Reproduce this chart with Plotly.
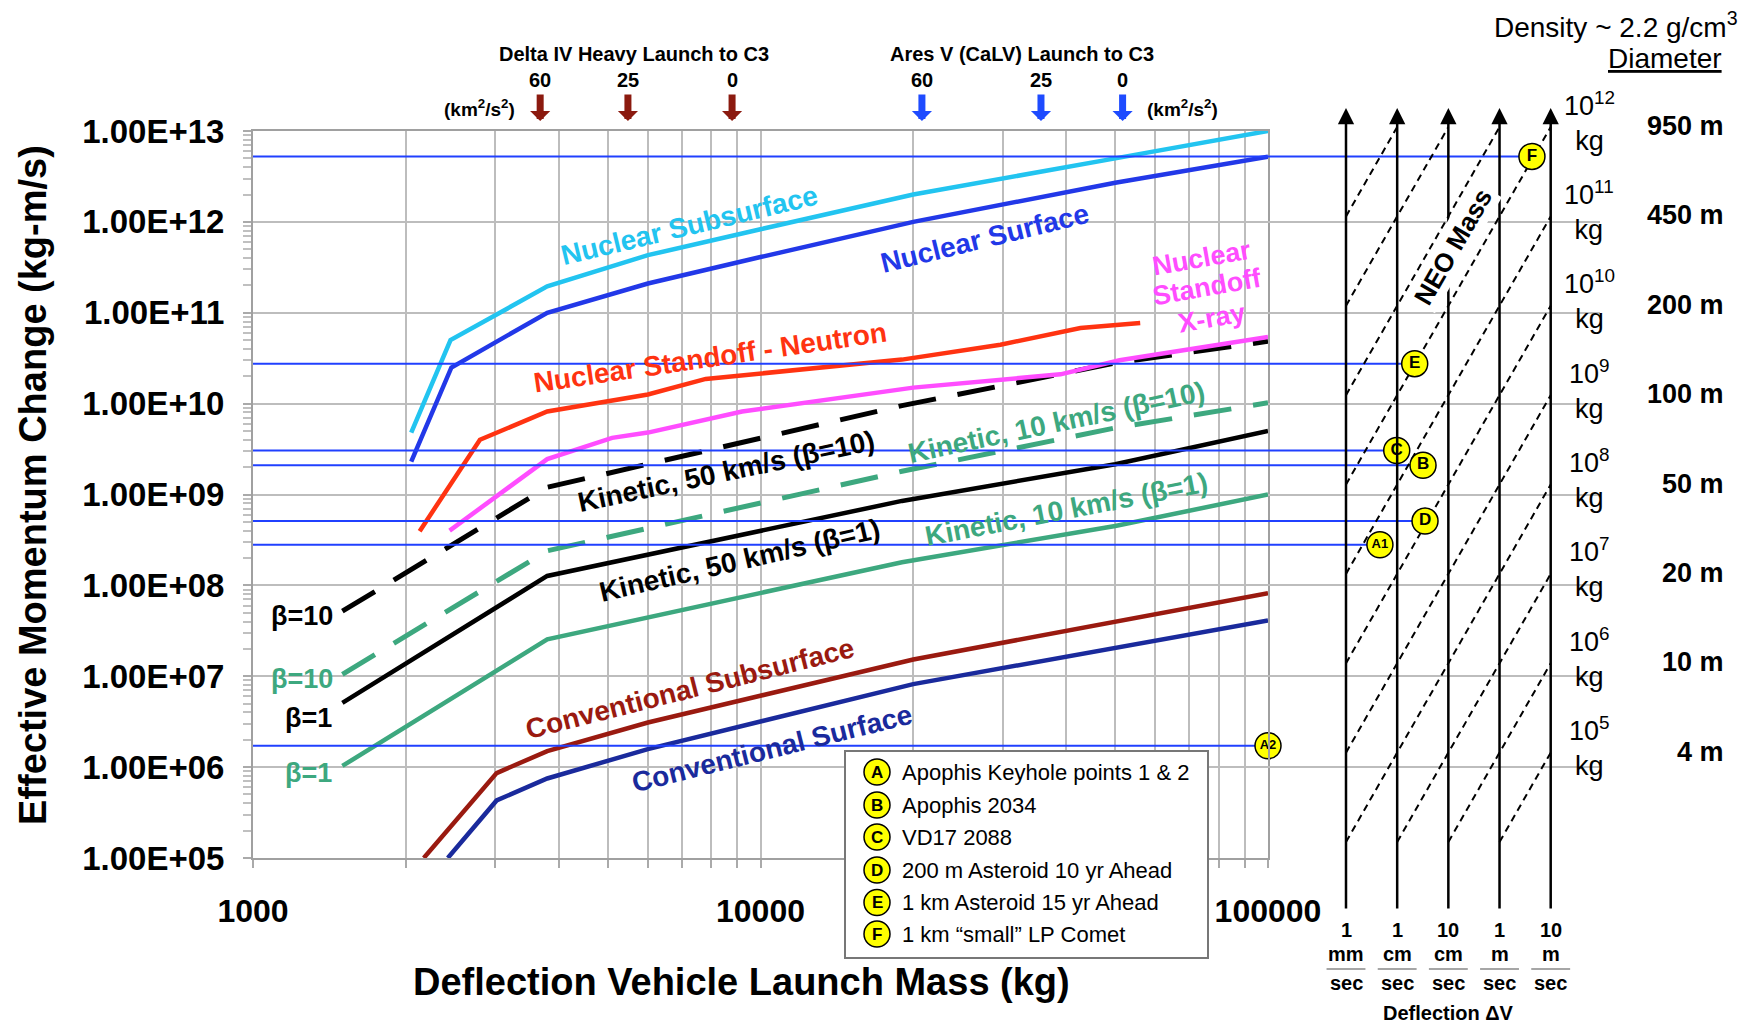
import numpy as np
import plotly.graph_objects as go

# ======================= DATA =======================
# Launch mass (kg) / effective momentum change (kg-m/s)
mass_nuc_sub = [2050, 2450, 3800, 6000, 10000, 20000, 50000, 100000]
mom_nuc_sub = [4.8e9, 5.0e10, 1.95e11, 4.3e11, 8.3e11, 2.0e12, 5.0e12, 1.0e13]

mass_nuc_surf = [2050, 2460, 3800, 6000, 10000, 20000, 50000, 100000]
mom_nuc_surf = [2.3e9, 2.5e10, 1.0e11, 2.1e11, 4.1e11, 1.0e12, 2.7e12, 5.2e12]

mass_neutron = [2130, 2800, 3800, 6000, 7800, 19000, 29700, 39000, 42700, 56000]
mom_neutron = [3.95e8, 4.0e9, 8.2e9, 1.26e10, 1.87e10, 3.05e10, 4.45e10, 6.0e10, 6.8e10, 7.7e10]

mass_xray = [2440, 3800, 5100, 6000, 9200, 20000, 39000, 51000, 100000]
mom_xray = [4.0e8, 2.45e9, 4.2e9, 4.8e9, 8.2e9, 1.5e10, 2.1e10, 3.0e10, 5.4e10]

mass_kin = [1500, 3800, 19000, 50000, 100000]
mom_kin50_b10 = [5.2e7, 1.2e9, 9.5e9, 2.8e10, 4.85e10]
mom_kin50_b1 = [5.1e6, 1.27e8, 8.5e8, 2.15e9, 5.0e9]
mom_kin10_b10 = [1.05e7, 2.4e8, 1.8e9, 5.4e9, 1.02e10]
mom_kin10_b1 = [1.03e6, 2.55e7, 1.8e8, 4.5e8, 1.0e9]

mass_conv_sub = [2170, 3020, 3800, 6000, 20000, 100000]
mom_conv_sub = [1.0e5, 8.6e5, 1.5e6, 3.1e6, 1.53e7, 8.2e7]

mass_conv_surf = [2420, 3020, 3800, 6000, 20000, 100000]
mom_conv_surf = [1.0e5, 4.3e5, 7.5e5, 1.58e6, 8.2e6, 4.1e7]

# Reference scenarios (momentum needed, deflection dV in m/s on nomogram)
ref_labels = ["F", "E", "C", "B", "D", "A1"]
ref_mom = [5.25e12, 2.75e10, 3.05e9, 2.1e9, 5.1e8, 2.8e8]
ref_dv = [4.3, 0.022, 0.0098, 0.032, 0.035, 0.0046]
a2_label = "A2"
a2_mom = 1.72e6

legend_keys = ["A", "B", "C", "D", "E", "F"]
legend_texts = ["Apophis Keyhole points 1 & 2", "Apophis 2034", "VD17 2088",
                "200 m Asteroid 10 yr Ahead", "1 km Asteroid 15 yr Ahead",
                "1 km \u201csmall\u201d LP Comet"]

# Launch vehicle capability markers
c3_values = [60, 25, 0]
delta_mass = [3680, 5480, 8790]
ares_mass = [20800, 35700, 51700]

# Nomogram
dv_values = [0.001, 0.01, 0.1, 1, 10]
dv_num = ["1", "1", "10", "1", "10"]
dv_unit = ["mm", "cm", "cm", "m", "m"]
neo_mass_exp = [5, 6, 7, 8, 9, 10, 11, 12]
diam_labels = ["4 m", "10 m", "20 m", "50 m", "100 m", "200 m", "450 m", "950 m"]
diag_mass_exp = list(range(5, 16))

y_tick_exp = list(range(5, 14))
x_tick_vals = [1000, 10000, 100000]

# ======================= LAYOUT CONSTANTS =======================
W, H = 1740, 1027
FONT = "Liberation Sans, Arial, Helvetica, sans-serif"
PX_L, PX_R, PX_T, PX_B = 253, 1268, 131, 858


def fx(p):
    return p / W


def fy(p):
    return 1 - p / H


NOMO_L0, NOMO_L4 = 1346, 1550.7
NU = (NOMO_L4 - NOMO_L0) / 4
NOMO_R = 1600
x2_range = [(PX_R - NOMO_L0) / NU, (NOMO_R - NOMO_L0) / NU]
PPD2 = (842 - 127) / 8
Y2_TOP, Y2_BOT = 108, 910
y2_range = [5 - (Y2_BOT - 842) / PPD2, 13 + (127 - Y2_TOP) / PPD2]
diag_lo, diag_hi = 5, 13

C_CYAN = "#22C4F0"
C_NSURF = "#2238E8"
C_RED = "#FF3311"
C_MAG = "#FF4DFF"
C_GREEN = "#3DA87F"
C_DRED = "#9A1A10"
C_NAVY = "#1A2A9C"
C_REF = "#2040FF"
C_GRID = "#BDBDBD"

fig = go.Figure()


def curve(xs, ys, color, dash=None, width=4.5):
    fig.add_trace(go.Scatter(x=xs, y=ys, mode="lines", xaxis="x", yaxis="y",
                             line=dict(color=color, width=width, dash=dash),
                             hoverinfo="skip", showlegend=False))


curve(mass_conv_surf, mom_conv_surf, C_NAVY)
curve(mass_conv_sub, mom_conv_sub, C_DRED)
curve(mass_kin, mom_kin10_b1, C_GREEN)
curve(mass_kin, mom_kin10_b10, C_GREEN, dash="38px,22px", width=5)
curve(mass_kin, mom_kin50_b1, "black")
curve(mass_kin, mom_kin50_b10, "black", dash="38px,22px", width=5)
curve(mass_xray, mom_xray, C_MAG)
curve(mass_neutron, mom_neutron, C_RED)
curve(mass_nuc_surf, mom_nuc_surf, C_NSURF)
curve(mass_nuc_sub, mom_nuc_sub, C_CYAN)

# Reference lines across the main chart
for m in ref_mom + [a2_mom]:
    fig.add_trace(go.Scatter(x=[x_tick_vals[0], x_tick_vals[-1]], y=[m, m], mode="lines",
                             xaxis="x", yaxis="y", line=dict(color=C_REF, width=2),
                             hoverinfo="skip", showlegend=False))
# Extensions into the nomogram
for m, dv in zip(ref_mom, ref_dv):
    fig.add_trace(go.Scatter(x=[x2_range[0], np.log10(dv) + 3], y=[m, m], mode="lines",
                             xaxis="x2", yaxis="y", line=dict(color=C_REF, width=2),
                             hoverinfo="skip", showlegend=False))

# Nomogram diagonals (constant NEO mass)
for e in diag_mass_exp:
    xs = max(0.0, diag_lo + 3 - e)
    xe = min(4.0, diag_hi + 3 - e)
    if xe <= xs:
        continue
    fig.add_trace(go.Scatter(x=[xs, xe], y=[10 ** (e + xs - 3), 10 ** (e + xe - 3)],
                             mode="lines", xaxis="x2", yaxis="y2",
                             line=dict(color="black", width=2, dash="7px,5px"),
                             hoverinfo="skip", showlegend=False))

circle_marker = dict(symbol="circle", size=26, color="#FFFF00", line=dict(color="black", width=1.5))

# Circles at left edge of the chart
left_lbls = ref_labels + [a2_label]
fig.add_trace(go.Scatter(x=[x_tick_vals[0]] * len(left_lbls), y=ref_mom + [a2_mom],
                         mode="markers+text", xaxis="x", yaxis="y",
                         marker=circle_marker,
                         text=["<b>%s</b>" % s for s in left_lbls],
                         textfont=dict(family=FONT, size=[13 if len(s) > 1 else 17 for s in left_lbls],
                                       color="black"),
                         textposition="middle center", cliponaxis=False,
                         hoverinfo="skip", showlegend=False))
fig.add_trace(go.Scatter(x=[x_tick_vals[-1]], y=[a2_mom], mode="markers+text",
                         xaxis="x", yaxis="y", marker=circle_marker,
                         text=["<b>A2</b>"], textfont=dict(family=FONT, size=13, color="black"),
                         textposition="middle center", cliponaxis=False,
                         hoverinfo="skip", showlegend=False))
# Circles on the nomogram (x3/y3 mirror x2/y so they draw above the diagonals)
fig.add_trace(go.Scatter(x=[np.log10(d) + 3 for d in ref_dv], y=ref_mom, mode="markers+text",
                         xaxis="x3", yaxis="y3", marker=circle_marker,
                         text=["<b>%s</b>" % s for s in ref_labels],
                         textfont=dict(family=FONT, size=[13 if len(s) > 1 else 17 for s in ref_labels],
                                       color="black"),
                         textposition="middle center", cliponaxis=False,
                         hoverinfo="skip", showlegend=False))

annotations = []
shapes = []


def ann(text, x, y, size, color="black", bold=False, angle=0, xanchor="center",
        yanchor="middle", xref="paper", yref="paper", **kw):
    t = "<b>%s</b>" % text if bold else text
    d = dict(text=t, x=x, y=y, xref=xref, yref=yref, showarrow=False,
             font=dict(family=FONT, size=size, color=color), textangle=angle,
             xanchor=xanchor, yanchor=yanchor)
    d.update(kw)
    annotations.append(d)


# Axis titles
ann("Deflection Vehicle Launch Mass (kg)", fx(741), fy(982), 38, bold=True)
ann("Effective Momentum Change (kg-m/s)", fx(33), fy(485), 38, bold=True, angle=-90)

# Curve labels
ann("Nuclear Subsurface", fx(689), fy(226), 28, C_CYAN, True, -13.5)
ann("Nuclear Surface", fx(984), fy(238), 28, C_NSURF, True, -13.8)
ann("Nuclear Standoff - Neutron", fx(710), fy(357), 28, C_RED, True, -8.3)
ann("Nuclear", fx(1202), fy(258), 27, C_MAG, True, -10)
ann("Standoff", fx(1207), fy(287), 27, C_MAG, True, -10)
ann("X-ray", fx(1212), fy(318), 27, C_MAG, True, -10)
ann("Kinetic, 50 km/s (\u03b2=10)", fx(726), fy(472), 28, "black", True, -12)
ann("Kinetic, 50 km/s (\u03b2=1)", fx(739), fy(560), 28, "black", True, -13)
ann("Kinetic, 10 km/s (\u03b2=10)", fx(1056), fy(422), 28, C_GREEN, True, -12)
ann("Kinetic, 10 km/s (\u03b2=1)", fx(1066), fy(510), 28, C_GREEN, True, -11)
ann("Conventional Subsurface", fx(690), fy(688), 28, C_DRED, True, -14.2)
ann("Conventional Surface", fx(772), fy(748), 28, C_NAVY, True, -14)
ann("\u03b2=10", fx(302), fy(616), 27, "black", True)
ann("\u03b2=10", fx(302), fy(679), 27, C_GREEN, True)
ann("\u03b2=1", fx(308), fy(718), 27, "black", True)
ann("\u03b2=1", fx(308), fy(773), 27, C_GREEN, True)

# Launch vehicle markers
ann("Delta IV Heavy Launch to C3", fx(634), fy(54), 20, bold=True)
ann("Ares V (CaLV) Launch to C3", fx(1022), fy(54), 20, bold=True)
ann("(km<sup>2</sup>/s<sup>2</sup>)", fx(479), fy(108), 19, bold=True)
ann("(km<sup>2</sup>/s<sup>2</sup>)", fx(1182), fy(108), 19, bold=True)
for masses, col in ((delta_mass, "#8B1A0F"), (ares_mass, "#1E4BFF")):
    for c3, m in zip(c3_values, masses):
        ann(str(c3), np.log10(m), fy(80), 20, bold=True, xref="x")
        annotations.append(dict(x=np.log10(m), y=fy(121), xref="x", yref="paper",
                                text="", showarrow=True, ax=0, ay=-28,
                                arrowcolor=col, arrowwidth=7, arrowhead=1, arrowsize=0.48))

# Nomogram arrows and labels
for i, dv in enumerate(dv_values):
    xi = np.log10(dv) + 3
    annotations.append(dict(x=xi, y=y2_range[1], xref="x2", yref="y2", text="",
                            showarrow=True, ax=xi, ay=y2_range[0], axref="x2", ayref="y2",
                            arrowcolor="black", arrowwidth=2.5, arrowhead=2, arrowsize=1.3))
    ann(dv_num[i], xi, fy(930), 20, bold=True, xref="x2")
    ann(dv_unit[i], xi, fy(954), 20, bold=True, xref="x2")
    ann("sec", xi, fy(983), 20, bold=True, xref="x2")
    shapes.append(dict(type="line", xref="x2", yref="paper", x0=xi - 0.38, x1=xi + 0.38,
                       y0=fy(969), y1=fy(969), line=dict(color="#888888", width=1.5)))
ann("Deflection \u0394V", np.log10(dv_values[2]) + 3, fy(1013), 20, bold=True, xref="x2")

for e, dl in zip(neo_mass_exp, diam_labels):
    ann("10<sup>%d</sup><br>kg" % e, fx(1589), np.log10(10.0 ** e * dv_values[-1]), 27,
        yref="y2", yshift=6)
    ann(dl, fx(1726), np.log10(10.0 ** e * dv_values[-1]), 27, bold=True,
        yref="y2", xanchor="right", yshift=1)

ann("NEO Mass", fx(1453), fy(247), 26, bold=True, angle=-60, bgcolor="white", borderpad=2)
ann("Density ~ 2.2 g/cm<sup>3</sup>", fx(1740), fy(25), 28, xanchor="right")
ann("<u>Diameter</u>", fx(1724), fy(59), 28, xanchor="right")

# Legend box
LB = dict(x0=845, x1=1208, y0=751, y1=958)
shapes.append(dict(type="rect", xref="paper", yref="paper", x0=fx(LB["x0"]), x1=fx(LB["x1"]),
                   y0=fy(LB["y1"]), y1=fy(LB["y0"]), fillcolor="white",
                   line=dict(color="#777777", width=2), layer="above"))
rows = [772, 805, 837, 870, 902.5, 934]
for k, t, ry in zip(legend_keys, legend_texts, rows):
    shapes.append(dict(type="circle", xref="paper", yref="paper", xsizemode="pixel",
                       ysizemode="pixel", xanchor=fx(877), yanchor=fy(ry),
                       x0=-13, x1=13, y0=-13, y1=13, fillcolor="#FFFF00",
                       line=dict(color="black", width=1.5), layer="above"))
    ann(k, fx(877), fy(ry), 17, bold=True)
    ann(t, fx(900), fy(ry), 22, xanchor="left")

minor_x = [k * 10 ** d for d in (3, 4) for k in range(2, 10)]

fig.update_layout(
    template="none",
    width=W, height=H,
    margin=dict(l=0, r=0, t=0, b=0, pad=0, autoexpand=False),
    paper_bgcolor="white", plot_bgcolor="rgba(0,0,0,0)",
    showlegend=False,
    font=dict(family=FONT, color="black"),
    xaxis=dict(type="log", range=[3, 5], domain=[fx(PX_L), fx(PX_R)], anchor="y",
               automargin=False,
               tickvals=x_tick_vals, ticktext=["<b>%d</b>" % v for v in x_tick_vals],
               tickfont=dict(family=FONT, size=32, color="black"),
               ticks="outside", ticklen=8, tickcolor="#AAAAAA", tickwidth=1.5,
               ticklabelstandoff=16,
               showgrid=True, gridcolor=C_GRID, gridwidth=2,
               minor=dict(tickvals=minor_x, showgrid=True, gridcolor=C_GRID, gridwidth=2,
                          ticks="outside", ticklen=8, tickcolor="#AAAAAA"),
               showline=True, linecolor="#A0A0A0", linewidth=2, mirror=True, zeroline=False),
    yaxis=dict(type="log", range=[5, 13], domain=[fy(PX_B), fy(PX_T)], anchor="x",
               automargin=False,
               tickvals=[10.0 ** e for e in y_tick_exp],
               ticktext=["<b>1.00E+%02d</b>" % e for e in y_tick_exp],
               tickfont=dict(family=FONT, size=33, color="black"),
               ticks="outside", ticklen=8, tickcolor="#AAAAAA", tickwidth=1.5,
               ticklabelstandoff=12,
               showgrid=True, gridcolor=C_GRID, gridwidth=2,
               minor=dict(dtick="D1", showgrid=False, ticks="outside", ticklen=8,
                          tickcolor="#C0C0C0"),
               showline=True, linecolor="#A0A0A0", linewidth=2, mirror=True, zeroline=False),
    xaxis2=dict(range=x2_range, domain=[fx(PX_R), fx(NOMO_R)], anchor="y2", visible=False,
                automargin=False),
    yaxis2=dict(type="log", range=y2_range, domain=[fy(Y2_BOT), fy(Y2_TOP)], anchor="x2",
                visible=False, automargin=False),
    xaxis3=dict(range=x2_range, domain=[fx(PX_R), fx(NOMO_R)], anchor="y3", visible=False,
                automargin=False),
    yaxis3=dict(type="log", range=[5, 13], domain=[fy(PX_B), fy(PX_T)], anchor="x3",
                visible=False, automargin=False),
    annotations=annotations,
    shapes=shapes,
)

fig.write_html("out.html", config={"displayModeBar": False},
               post_script="document.body.style.margin='0';document.body.style.overflow='hidden';")
